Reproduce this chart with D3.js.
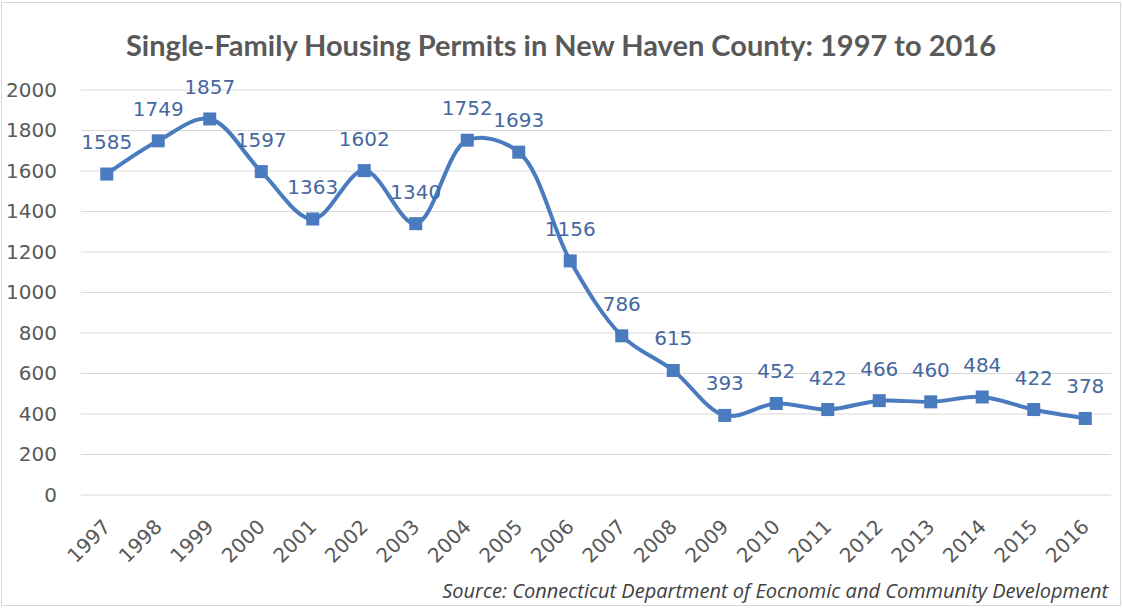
<!DOCTYPE html>
<html lang="en">
  <head>
    <meta charset="utf-8">
    <title>Single-Family Housing Permits</title>
    <script src="https://cdn.jsdelivr.net/npm/d3@7"></script>
    <style>
      body { margin: 0; background: #fff; }
    </style>
  </head>
  <body>
    <div id="chart"></div>
    <script>
      // data
      const years = ['1997','1998','1999','2000','2001','2002','2003','2004','2005','2006',
                     '2007','2008','2009','2010','2011','2012','2013','2014','2015','2016'];
      const permits = [1585,1749,1857,1597,1363,1602,1340,1752,1693,1156,
                       786,615,393,452,422,466,460,484,422,378];
      const yTicks = [0,200,400,600,800,1000,1200,1400,1600,1800,2000];

      const width = 1122, height = 610;
      const margin = {top: 90, right: 11, bottom: 115, left: 81};
      const numFont = '"DejaVu Sans", sans-serif';

      const svg = d3.select('#chart').append('svg')
        .attr('width', width)
        .attr('height', height);

      // outer frame
      svg.append('rect')
        .attr('x', 1.5).attr('y', 2.5)
        .attr('width', width - 3).attr('height', height - 7)
        .attr('fill', '#fff')
        .attr('stroke', '#d9d9d9');

      const x = d3.scaleBand()
        .domain(years)
        .range([margin.left, width - margin.right]);

      const y = d3.scaleLinear()
        .domain([0, 2000])
        .range([height - margin.bottom, margin.top]);

      // title
      svg.append('text')
        .attr('x', 561).attr('y', 56)
        .attr('text-anchor', 'middle')
        .attr('fill', '#595959')
        .style('font-family', 'Lato, sans-serif')
        .style('font-size', '29px')
        .style('font-weight', 'bold')
        .text('Single-Family Housing Permits in New Haven County: 1997 to 2016');

      // gridlines
      svg.append('g')
        .selectAll('line')
        .data(yTicks)
        .join('line')
        .attr('x1', margin.left).attr('x2', width - margin.right)
        .attr('y1', d => y(d)).attr('y2', d => y(d))
        .attr('stroke', '#d9d9d9')
        .attr('stroke-width', 1);

      // y axis
      const yAxis = svg.append('g')
        .attr('transform', `translate(${margin.left - 24},0)`)
        .call(d3.axisLeft(y).tickValues(yTicks).tickFormat(d3.format('d')).tickSize(0).tickPadding(0));
      yAxis.select('.domain').remove();
      yAxis.selectAll('text')
        .attr('fill', '#595959')
        .style('font-size', '20px')
        .style('font-family', numFont);

      // x axis (rotated labels)
      const xAxis = svg.append('g')
        .attr('transform', `translate(0,${height - margin.bottom})`)
        .call(d3.axisBottom(x).tickSize(0).tickPadding(0));
      xAxis.select('.domain').remove();
      xAxis.selectAll('text')
        .attr('fill', '#595959')
        .style('font-size', '20px')
        .style('font-family', numFont)
        .attr('text-anchor', 'end')
        .attr('dy', 0)
        .attr('transform', 'translate(5,33) rotate(-45)');

      const cx = d => x(d) + x.bandwidth() / 2;
      const pts = years.map((d, i) => [cx(d), y(permits[i])]);

      // smoothed line
      svg.append('path')
        .datum(pts)
        .attr('fill', 'none')
        .attr('stroke', '#4a7bbf')
        .attr('stroke-width', 4)
        .attr('stroke-linejoin', 'round')
        .attr('d', d3.line().curve(d3.curveCatmullRom.alpha(0.5)));

      // square markers
      svg.append('g')
        .selectAll('rect')
        .data(pts)
        .join('rect')
        .attr('x', d => d[0] - 6.5)
        .attr('y', d => d[1] - 6.5)
        .attr('width', 13).attr('height', 13)
        .attr('fill', '#4a7bbf');

      // data labels
      svg.append('g')
        .selectAll('text')
        .data(permits)
        .join('text')
        .attr('x', (d, i) => cx(years[i]))
        .attr('y', d => y(d) - 25)
        .attr('text-anchor', 'middle')
        .attr('fill', '#45689f')
        .style('font-size', '20px')
        .style('font-family', numFont)
        .text(d => d);

      // source note
      svg.append('text')
        .attr('x', 1108).attr('y', 598)
        .attr('text-anchor', 'end')
        .attr('fill', '#404040')
        .style('font-family', '"Open Sans", sans-serif')
        .style('font-size', '20px')
        .style('font-style', 'italic')
        .text('Source: Connecticut Department of Eocnomic and Community Development');
    </script>
  </body>
</html>
